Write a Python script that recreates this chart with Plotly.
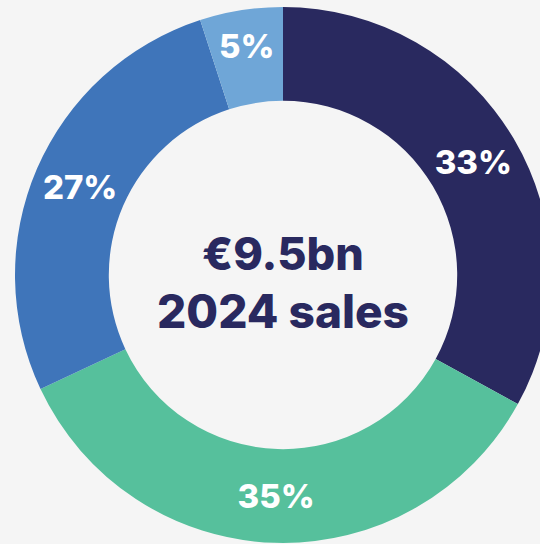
import plotly.graph_objects as go

# Data
segments = ["Segment A", "Segment B", "Segment C", "Segment D"]
shares = [33, 35, 27, 5]
colors = ["#29295f", "#56c09c", "#3f75ba", "#6fa6d7"]
center_line1 = "€9.5bn"
center_line2 = "2024 sales"

NAVY = "#29295f"
BG = "#f5f5f5"
FONT = "Inter"

fig = go.Figure(
    go.Pie(
        labels=segments,
        values=shares,
        hole=0.65,
        sort=False,
        direction="clockwise",
        rotation=0,
        marker=dict(colors=colors, line=dict(width=0)),
        texttemplate="%{value}%",
        textposition="inside",
        insidetextorientation="horizontal",
        textfont=dict(family=FONT, size=33, color="white", weight=800),
        hoverinfo="label+percent",
        showlegend=False,
    )
)

fig.add_annotation(
    x=0.5, y=0.541, xref="paper", yref="paper",
    text=center_line1, showarrow=False,
    font=dict(family=FONT, size=45, color=NAVY, weight=800),
    xanchor="center", yanchor="middle",
)
fig.add_annotation(
    x=0.5, y=0.433, xref="paper", yref="paper",
    text=center_line2, showarrow=False,
    font=dict(family=FONT, size=46, color=NAVY, weight=800),
    xanchor="center", yanchor="middle",
)

fig.update_layout(
    width=552,
    height=544,
    autosize=False,
    margin=dict(l=15, r=1, t=7, b=1, pad=0),
    paper_bgcolor=BG,
    plot_bgcolor=BG,
    uniformtext=dict(minsize=33, mode="show"),
)

fig.write_html(
    "out.html",
    config={"displayModeBar": False},
    post_script=(
        "document.body.style.margin='0';"
        "document.body.style.background='#f5f5f5';"
        "document.body.style.overflow='hidden';"
        "document.documentElement.style.overflow='hidden';"
    ),
)
